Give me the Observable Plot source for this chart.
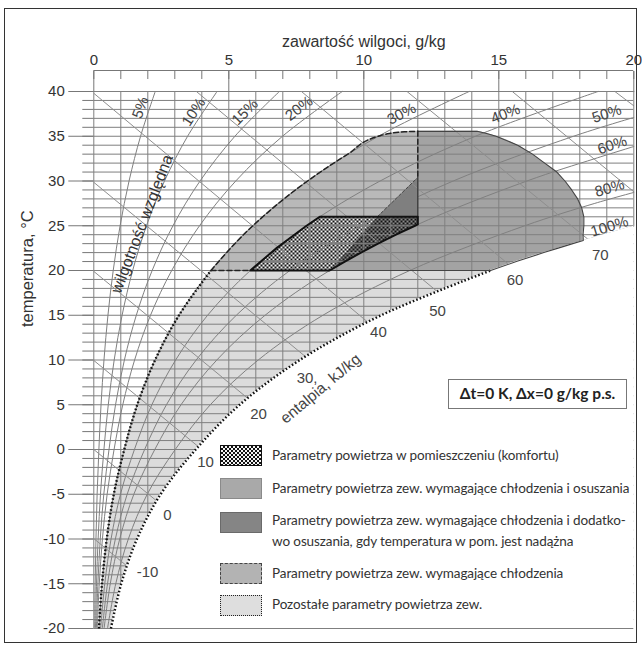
<!DOCTYPE html>
<html><head><meta charset="utf-8">
<script src="https://cdn.jsdelivr.net/npm/d3@7"></script>
<script src="https://cdn.jsdelivr.net/npm/@observablehq/plot@0.6"></script>
<style>
body{margin:0;background:#fff;}
#wrap{position:relative;width:642px;height:648px;overflow:hidden;}
#wrap svg{position:absolute;left:0;top:0;}
#border{position:absolute;left:4px;top:8px;width:633px;height:635px;border:1.5px solid #333;box-sizing:border-box;pointer-events:none;}
.lg{position:absolute;font-family:Lato,"Open Sans",sans-serif;font-size:13.5px;color:#333;white-space:nowrap;line-height:21px;letter-spacing:-0.1px;}
.sw{position:absolute;left:220px;width:42px;height:21px;box-sizing:border-box;}
#box{position:absolute;left:448px;top:379px;width:179px;height:30px;border:1.3px solid #777;box-sizing:border-box;font-family:Lato,"Open Sans",sans-serif;font-weight:bold;font-size:15.5px;color:#222;text-align:center;line-height:27px;}
</style></head><body><div id="wrap"></div>
<script>
// ---------- axis ticks ----------
const xTicksMajor = [0, 5, 10, 15, 20];
const xTicksMinor = d3.range(0, 21, 1);
const yTicksMajor = [-20, -15, -10, -5, 0, 5, 10, 15, 20, 25, 30, 35, 40];
const yTicksMinor = d3.range(-20, 41, 1);

// ---------- relative humidity curves: [moisture g/kg, temperature °C] ----------
const rh5   = [[0.032,-20],[0.051,-15],[0.080,-10],[0.123,-5],[0.188,0],[0.268,5],[0.377,10],[0.524,15],[0.719,20],[0.974,25],[1.306,30],[1.732,35],[2.275,40]];
const rh10  = [[0.063,-20],[0.101,-15],[0.160,-10],[0.247,-5],[0.375,0],[0.536,5],[0.755,10],[1.048,15],[1.439,20],[1.951,25],[2.618,30],[3.474,35],[4.566,40]];
const rh15  = [[0.095,-20],[0.152,-15],[0.239,-10],[0.370,-5],[0.563,0],[0.805,5],[1.133,10],[1.574,15],[2.161,20],[2.932,25],[3.934,30],[5.226,35],[6.874,40]];
const rh20  = [[0.127,-20],[0.203,-15],[0.319,-10],[0.494,-5],[0.751,0],[1.073,5],[1.511,10],[2.100,15],[2.885,20],[3.915,25],[5.257,30],[6.988,35],[9.200,40]];
const rh30  = [[0.190,-20],[0.305,-15],[0.479,-10],[0.741,-5],[1.128,0],[1.611,5],[2.270,10],[3.156,15],[4.338,20],[5.891,25],[7.919,30],[10.540,35],[13.902,40]];
const rh40  = [[0.254,-20],[0.406,-15],[0.639,-10],[0.988,-5],[1.505,0],[2.150,5],[3.030,10],[4.215,15],[5.797,20],[7.880,25],[10.604,30],[14.133,35],[18.676,40]];
const rh50  = [[0.317,-20],[0.508,-15],[0.799,-10],[1.236,-5],[1.882,0],[2.690,5],[3.792,10],[5.278,15],[7.263,20],[9.881,25],[13.311,30],[17.768,35],[20,37.1]];
const rh60  = [[0.381,-20],[0.610,-15],[0.959,-10],[1.483,-5],[2.259,0],[3.230,5],[4.556,10],[6.344,15],[8.736,20],[11.895,25],[16.042,30],[18.560,32.5],[20,33.85]];
const rh80  = [[0.508,-20],[0.813,-15],[1.279,-10],[1.979,-5],[3.016,0],[4.315,5],[6.090,10],[8.487,15],[11.703,20],[15.962,25],[18.555,27.5],[20,28.72]];
const rh100 = [[0.635,-20],[1.016,-15],[1.600,-10],[2.476,-5],[3.775,0],[5.403,5],[7.631,10],[10.646,15],[14.698,20],[17.20,22.5],[20,24.95]];
const rhLevels = [5, 10, 15, 20, 30, 40, 50, 60, 80, 100];
const rhCurves = [rh5, rh10, rh15, rh20, rh30, rh40, rh50, rh60, rh80, rh100];

const rhLabelText  = ["5%", "10%", "15%", "20%", "30%", "40%", "50%", "60%", "80%", "100%"];
const rhLabelX     = [1.73, 3.70, 5.60, 7.60, 11.40, 15.25, 19.00, 19.20, 19.10, 19.10];
const rhLabelT     = [38.2, 37.7, 37.7, 38.1, 37.5, 37.5, 37.5, 34.0, 29.2, 24.9];
const rhLabelAngle = [-70, -57, -45, -37, -27, -21, -18, -18, -16, -17];

// ---------- enthalpy lines, kJ/kg ----------
const hValues = [-10, 0, 10, 20, 30, 40, 50, 60, 70, 80, 90];
const hStartX = [0, 0, 0, 0, 0, 0, 3.80, 7.69, 11.60, 15.50, 19.30];
const hStartT = [-9.95, 0, 9.95, 19.9, 29.85, 39.8, 40, 40, 40, 40, 40];
const hEndX   = [1.22, 2.31, 3.88, 5.69, 7.83, 10.16, 12.70, 15.36, 18.30, 20, 20];
const hEndT   = [-13.0, -5.7, 0.3, 5.75, 10.4, 14.2, 17.7, 20.7, 23.5, 28.8, 38.4];
const hLabelText = ["-10", "0", "10", "20", "30,", "40", "50", "60", "70"];
const hLabelX    = [1.99, 2.73, 4.14, 6.10, 7.90, 10.54, 12.73, 15.60, 18.76];
const hLabelT    = [-13.7, -7.3, -1.4, 4.0, 8.0, 13.1, 15.5, 18.9, 21.7];

// ---------- zones ----------
const zoneLowT = [-20, -15, -10, -5, 0, 5, 10, 15, 20];
const zoneCoolT    = [20, 25, 30, 33, 35, 35.3, 35.5, 35.55];
const zoneCoolLeft = [4.338, 5.891, 7.919, 9.41, 10.54, 10.95, 11.5, 12];
const zoneCoolRight = 12;
const zoneDryT     = [20, 21, 22, 22.5, 23, 23.35, 24, 25, 25.15, 26, 27, 28, 29, 30, 31, 32, 33, 34, 35, 35.3, 35.55];
const zoneDryLeft  = [8.736, 9.297, 9.897, 10.21, 10.525, 10.754, 11.192, 11.895, 12, 12, 12, 12, 12, 12, 12, 12, 12, 12, 12, 12, 12];
const zoneDryRight = [14.698, 15.65, 16.67, 17.20, 17.74, 18.13, 18.12, 18.15, 18.15, 18.15, 18.07, 17.92, 17.70, 17.45, 17.15, 16.70, 16.25, 15.70, 14.90, 14.55, 14.20];
const zoneExtra = [[10.5, 26], [12, 30.4], [12, 26]];
const comfortLight = [[5.797, 20], [6.769, 22.5], [7.88, 25], [8.368, 26], [10.5, 26], [8.736, 20]];
const comfortDark  = [[8.736, 20], [10.5, 26], [12, 26], [12, 25.15], [11.895, 25], [11.192, 24], [10.525, 23], [9.897, 22], [9.297, 21]];
const comfortOutline = [[5.797, 20], [6.769, 22.5], [7.88, 25], [8.368, 26], [12, 26], [12, 25.15], [11.895, 25], [11.192, 24], [10.525, 23], [9.897, 22], [9.297, 21], [8.736, 20]];

// ---------- build ----------
const rhData = rhCurves.flatMap((c, i) => c.map(p => ({rh: rhLevels[i], x: p[0], T: p[1]})));
const lowData = zoneLowT.map((t, i) => ({T: t, x1: rh30[i][0], x2: rh100[i][0]}));
const coolData = zoneCoolT.map((t, i) => ({T: t, x1: zoneCoolLeft[i], x2: zoneCoolRight}));
const dryData = zoneDryT.map((t, i) => ({T: t, x1: zoneDryLeft[i], x2: zoneDryRight[i]}));
const maskData = rh100.map(p => ({T: p[1], x1: p[0], x2: 20}));
const dryOutline = [[zoneDryLeft[0], 20]].concat(zoneDryT.map((t, i) => [zoneDryRight[i], t]), [[12, 35.55]]);
const coolOutline = zoneCoolT.map((t, i) => [zoneCoolLeft[i], t]);
const pt = {x: d => d[0], y: d => d[1]};
const hIdx = d3.range(hValues.length);
const hlIdx = d3.range(hLabelText.length);
const rlIdx = d3.range(rhLabelText.length);
const ink = "#333";
const gridC = "#7f7f7f";
const dotted = {stroke: "#111", strokeWidth: 2.4, strokeDasharray: "1.6,2.1", strokeLinecap: "butt", curve: "catmull-rom"};

const chart = Plot.plot({
  width: 642, height: 648,
  marginLeft: 93.3, marginRight: 8.7, marginTop: 91, marginBottom: 20,
  x: {domain: [0, 20], label: null},
  y: {domain: [-20, 40], label: null},
  style: {fontFamily: "'Liberation Sans', Arial, sans-serif", color: ink, background: "transparent", overflow: "visible"},
  marks: [
    // fills
    Plot.areaX(lowData, {y: "T", x1: "x1", x2: "x2", fill: "#dcdcdc", curve: "monotone-y"}),
    Plot.areaX(coolData, {y: "T", x1: "x1", x2: "x2", fill: "#b9b9b9", curve: "monotone-y"}),
    Plot.areaX(dryData, {y: "T", x1: "x1", x2: "x2", fill: "#a3a3a3", curve: "monotone-y"}),
    Plot.line(zoneExtra, {...pt, fill: "#7f7f7f", stroke: "none", curve: "linear-closed"}),
    Plot.line(comfortLight, {...pt, fill: "url(#chkW)", stroke: "none", curve: "linear-closed"}),
    Plot.line(comfortDark, {...pt, fill: "url(#chkD)", stroke: "none", curve: "linear-closed"}),
    // grid
    Plot.ruleY(yTicksMinor, {x1: 0, x2: 20, stroke: gridC, strokeWidth: 1}),
    Plot.ruleX(d3.range(0, 20), {y1: -20, y2: 40, stroke: gridC, strokeWidth: 1}),
    // relative humidity curves
    Plot.line(rhData, {x: "x", y: "T", z: "rh", curve: "catmull-rom", stroke: "#808080", strokeWidth: 1}),
    // enthalpy lines
    Plot.link(hIdx, {x1: i => hStartX[i], y1: i => hStartT[i], x2: i => hEndX[i], y2: i => hEndT[i], stroke: "#8e8e8e", strokeWidth: 1}),
    // white beyond saturation
    Plot.areaX(maskData, {y: "T", x1: "x1", x2: "x2", fill: "white", curve: "catmull-rom"}),
    Plot.ruleX([20], {y1: rh100[rh100.length - 1][1], y2: 40, stroke: gridC}),
    // outlines
    Plot.line(rh30.slice(0, 9), {...pt, ...dotted}),
    Plot.line(rh100.slice(0, 9), {...pt, ...dotted}),
    Plot.line(dryOutline, {...pt, stroke: "#444", strokeWidth: 1.1}),
    Plot.line(coolOutline, {...pt, stroke: "#222", strokeWidth: 1.5, strokeDasharray: "5,3", curve: "monotone-y"}),
    Plot.line([[zoneCoolLeft[0], 20], [5.797, 20]], {...pt, stroke: "#222", strokeWidth: 1.5, strokeDasharray: "5,3"}),
    Plot.line([[12, 35.55], [12, 30.4]], {...pt, stroke: "#222", strokeWidth: 1.5, strokeDasharray: "5,3"}),
    Plot.line([[12, 30.4], [12, 26]], {...pt, stroke: "#333", strokeWidth: 1.2}),
    Plot.line([[10.5, 26], [12, 30.4]], {...pt, stroke: "#444", strokeWidth: 1, strokeDasharray: "3,2"}),
    Plot.line(comfortOutline, {...pt, stroke: "#111", strokeWidth: 2, curve: "linear-closed"}),
    // axes
    Plot.ruleY([40], {x1: 0, x2: 20, dy: -21, stroke: "#777"}),
    Plot.axisX({anchor: "top", ticks: xTicksMinor, tickSize: 8, dy: -13, text: null, label: null, stroke: "#777"}),
    Plot.axisX({anchor: "top", ticks: xTicksMajor, tickSize: 21, tickPadding: 6, fontSize: 15, label: null, tickFormat: d => String(d), stroke: "#777"}),
    Plot.axisY({anchor: "left", ticks: yTicksMinor, tickSize: 11, text: null, label: null, stroke: "#777"}),
    Plot.axisY({anchor: "left", ticks: yTicksMajor, tickSize: 25, tickPadding: 4, fontSize: 15, label: null, tickFormat: d => String(d), stroke: "#777"}),
    // titles
    Plot.text(["zawartość wilgoci, g/kg"], {frameAnchor: "top", dy: -56, fontSize: 16, fill: ink}),
    Plot.text(["temperatura, °C"], {frameAnchor: "left", dx: -66, dy: -33, rotate: -90, fontSize: 16.5, fill: ink}),
    Plot.text(["wilgotność względna"], {x: 1.79, y: 25.2, rotate: -69, fontSize: 16, fill: ink}),
    Plot.text(rlIdx, {x: i => rhLabelX[i], y: i => rhLabelT[i], text: i => rhLabelText[i], rotate: i => rhLabelAngle[i], fontSize: 15, fill: "#444"}),
    Plot.text(hlIdx, {x: i => hLabelX[i], y: i => hLabelT[i], text: i => hLabelText[i], fontSize: 15, fill: "#444"}),
    Plot.text(["entalpia, kJ/kg"], {x: 8.4, y: 6.8, rotate: -40, fontSize: 15.5, fill: "#444"})
  ]
});

const ns = "http://www.w3.org/2000/svg";
const defs = document.createElementNS(ns, "defs");
defs.innerHTML =
  '<pattern id="chkW" width="4" height="4" patternUnits="userSpaceOnUse"><rect width="4" height="4" fill="#f4f4f4"/><rect width="2" height="2" fill="#111"/><rect x="2" y="2" width="2" height="2" fill="#111"/></pattern>' +
  '<pattern id="chkD" width="4" height="4" patternUnits="userSpaceOnUse"><rect width="4" height="4" fill="#8a8a8a"/><rect width="2" height="2" fill="#111"/><rect x="2" y="2" width="2" height="2" fill="#111"/></pattern>';
chart.insertBefore(defs, chart.firstChild);

const wrap = document.getElementById("wrap");
wrap.appendChild(chart);

// legend and note (HTML)
const legendText = [
  "Parametry powietrza w pomieszczeniu (komfortu)",
  "Parametry powietrza zew. wymagające chłodzenia i osuszania",
  "Parametry powietrza zew. wymagające chłodzenia i dodatko-<br>wo osuszania, gdy temperatura w pom. jest nadążna",
  "Parametry powietrza zew. wymagające chłodzenia",
  "Pozostałe parametry powietrza zew."
];
const legendStyle = [
  "background-color:#f4f4f4;background-image:repeating-conic-gradient(#111 0 25%, transparent 0 50%);background-size:4px 4px;border:1.5px solid #111;",
  "background:#a9a9a9;border:1px solid #8a8a8a;",
  "background:#858585;border:1px solid #6a6a6a;",
  "background:#b3b3b3;border:1.6px dashed #444;",
  "background:#dedede;border:1.6px dotted #222;"
];
const legendTop = [445, 478, 512, 563, 595];
const legendTextTop = [445, 478, 510, 563, 594];
legendText.forEach((t, i) => {
  const s = document.createElement("div");
  s.className = "sw";
  s.style.cssText += "top:" + legendTop[i] + "px;" + legendStyle[i];
  wrap.appendChild(s);
  const l = document.createElement("div");
  l.className = "lg";
  l.style.left = "272px";
  l.style.top = legendTextTop[i] + "px";
  l.innerHTML = t;
  wrap.appendChild(l);
});
const box = document.createElement("div");
box.id = "box";
box.textContent = "Δt=0 K, Δx=0 g/kg p.s.";
wrap.appendChild(box);
const border = document.createElement("div");
border.id = "border";
wrap.appendChild(border);
</script></body></html>
